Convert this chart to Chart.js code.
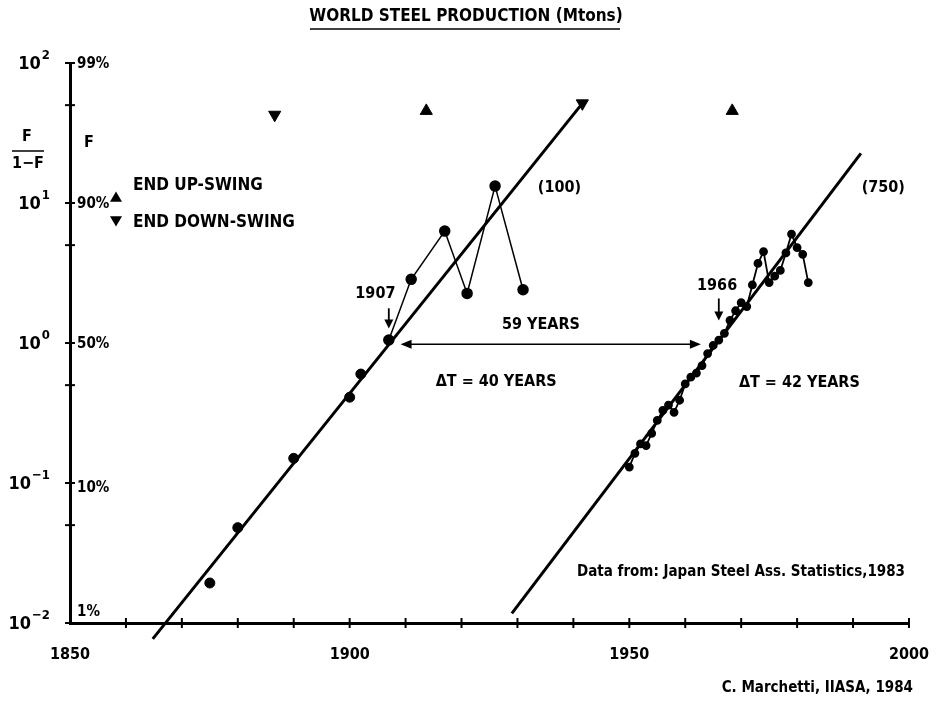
<!DOCTYPE html>
<html>
<head>
<meta charset="utf-8">
<script src="https://cdn.jsdelivr.net/npm/chart.js@4.4.1/dist/chart.umd.min.js"></script>
<style>
  html, body { margin: 0; padding: 0; background: #fff; }
  #wrap { width: 943px; height: 702px; }
</style>
</head>
<body>
<div id="wrap"><canvas id="steel"></canvas></div>
<script>
// first pulse, points on the fit line (no connecting line)
const years1a = [1875, 1880, 1890, 1900, 1902];
const share1a = [0.0193, 0.048, 0.15, 0.41, 0.60];
// first pulse, saturation phase (connected)
const years1b = [1907, 1911, 1917, 1921, 1926, 1931];
const share1b = [1.05, 2.85, 6.3, 2.26, 13.2, 2.4];
// second pulse
const years2 = [1950, 1951, 1952, 1953, 1954, 1955, 1956, 1957, 1958, 1959, 1960,
  1961, 1962, 1963, 1964, 1965, 1966, 1967, 1968, 1969, 1970, 1971, 1972, 1973,
  1974, 1975, 1976, 1977, 1978, 1979, 1980, 1981, 1982];
const share2 = [0.13, 0.163, 0.19, 0.185, 0.226, 0.28, 0.33, 0.36, 0.32, 0.39, 0.51,
  0.57, 0.61, 0.69, 0.84, 0.96, 1.05, 1.17, 1.45, 1.7, 1.94, 1.82, 2.6, 3.7,
  4.5, 2.7, 3.0, 3.3, 4.4, 6.0, 4.8, 4.3, 2.7];
// logistic fit lines (end points)
const fit1Years = [1864.8, 1941.6];
const fit1Share = [0.0077, 51.5];
const fit2Years = [1929, 1991.4];
const fit2Share = [0.0117, 22.6];
// long wave markers
const upSwingYears = [1913.7, 1968.4];
const upSwingShare = [45.5, 45.5];
const downSwingYears = [1886.6, 1941.6];
const downSwingShare = [42.7, 51.5];
// axes
const yTickValues = [0.01, 0.05, 0.1, 0.5, 1, 5, 10, 50, 100];
const yPowerLabels = [[0.01, '-2'], [0.1, '-1'], [1, '0'], [10, '1'], [100, '2']];
const yPercentLabels = [[100, '99%'], [10, '90%'], [1, '50%'], [0.1, '10%'], [0.01, '1%']];

const FONT = '"Liberation Sans Narrow", "DejaVu Sans Condensed", "Liberation Sans", sans-serif';
const pts = (xs, ys) => xs.map((x, i) => ({ x: x, y: ys[i] }));

const overlay = {
  id: 'overlay',
  afterDraw(chart) {
    const { ctx, chartArea: a, scales: { x, y } } = chart;
    const px = v => x.getPixelForValue(v);
    const py = v => y.getPixelForValue(v);
    const line = (x1, y1, x2, y2) => { ctx.beginPath(); ctx.moveTo(x1, y1); ctx.lineTo(x2, y2); ctx.stroke(); };
    const text = (s, X, Y, size, align) => {
      ctx.font = 'bold ' + size + 'px ' + FONT;
      ctx.textAlign = align || 'center';
      ctx.textBaseline = 'middle';
      ctx.fillText(s, X, Y);
    };
    const tri = (X, Y, r, down) => {
      ctx.beginPath();
      if (down) { ctx.moveTo(X - r, Y - r * 0.8); ctx.lineTo(X + r, Y - r * 0.8); ctx.lineTo(X, Y + r * 0.9); }
      else { ctx.moveTo(X - r, Y + r * 0.8); ctx.lineTo(X + r, Y + r * 0.8); ctx.lineTo(X, Y - r * 0.9); }
      ctx.closePath(); ctx.fill();
    };
    const head = (X, Y, dir, len, w) => {
      ctx.beginPath();
      if (dir === 'down') { ctx.moveTo(X, Y); ctx.lineTo(X - w, Y - len); ctx.lineTo(X + w, Y - len); }
      if (dir === 'left') { ctx.moveTo(X, Y); ctx.lineTo(X + len, Y - w); ctx.lineTo(X + len, Y + w); }
      if (dir === 'right') { ctx.moveTo(X, Y); ctx.lineTo(X - len, Y - w); ctx.lineTo(X - len, Y + w); }
      ctx.closePath(); ctx.fill();
    };

    ctx.save();
    ctx.fillStyle = '#000';
    ctx.strokeStyle = '#000';

    // crossing tick marks
    ctx.lineWidth = 2;
    for (let t = 1860; t <= 2000; t += 10) line(px(t), a.bottom - 5, px(t), a.bottom + 5);
    yTickValues.forEach(v => line(a.left - 5, py(v), a.left + 5, py(v)));

    // y labels: powers of ten and percentages
    yPowerLabels.forEach(([v, e]) => {
      ctx.font = 'bold 18px ' + FONT;
      ctx.textAlign = 'right'; ctx.textBaseline = 'middle';
      const ew = ctx.measureText('\u2212' + e).width;
      ctx.font = 'bold 13px ' + FONT;
      const sup = e.replace('-', '\u2212');
      const sw = ctx.measureText(sup).width;
      ctx.textAlign = 'left';
      ctx.fillText(sup, 50 - sw, py(v) - 7);
      ctx.font = 'bold 18px ' + FONT;
      ctx.textAlign = 'right';
      ctx.fillText('10', 50 - sw - 1, py(v) + 1);
    });
    yPercentLabels.forEach(([v, s]) => {
      const off = v === 0.01 ? -11 : (v === 0.1 ? 5 : 1);
      text(s, a.left + 7, py(v) + off, 15, 'left');
    });

    // title
    text('WORLD STEEL PRODUCTION (Mtons)', 466, 17, 17);
    ctx.lineWidth = 1.5;
    line(310, 29, 620, 29);

    // left side labels
    text('F', 27, 137, 16);
    ctx.lineWidth = 1.5;
    line(12, 151, 44, 151);
    text('1\u2212F', 28, 164, 16);
    text('F', 89, 143, 16);
    tri(116, 197, 6, false);
    tri(116, 221, 6, true);
    text('END UP-SWING', 133, 186, 17, 'left');
    text('END DOWN-SWING', 133, 223, 17, 'left');

    // pulse annotations
    text('(100)', px(1937.5), py(12.9), 16);
    text('(750)', px(1995.4), py(12.8), 16);
    text('1907', px(1904.6), py(2.26), 16);
    ctx.lineWidth = 1.8;
    line(px(1907), py(1.77), px(1907), py(1.4));
    head(px(1907), py(1.27), 'down', 9, 4.5);
    text('1966', px(1965.7), py(2.57), 16);
    line(px(1966), py(2.08), px(1966), py(1.6));
    head(px(1966), py(1.45), 'down', 9, 4.5);

    text('59 YEARS', px(1934.2), py(1.34), 16);
    ctx.lineWidth = 1.5;
    line(px(1909.6), py(0.98), px(1962), py(0.98));
    head(px(1909.1), py(0.98), 'left', 11, 4.5);
    head(px(1962.8), py(0.98), 'right', 11, 4.5);

    text('\u0394T = 40 YEARS', px(1926.2), py(0.525), 16);
    text('\u0394T = 42 YEARS', px(1980.4), py(0.52), 16);
    text('Data from: Japan Steel Ass. Statistics,1983', 905, 572, 15, 'right');
    text('C. Marchetti, IIASA, 1984', 913, 688, 15, 'right');
    ctx.restore();
  }
};

new Chart(document.getElementById('steel'), {
  type: 'scatter',
  data: {
    datasets: [
      { data: pts(fit1Years, fit1Share), showLine: true, borderColor: '#000', borderWidth: 3,
        pointRadius: 0, clip: false },
      { data: pts(fit2Years, fit2Share), showLine: true, borderColor: '#000', borderWidth: 3,
        pointRadius: 0, clip: false },
      { data: pts(years1a, share1a), backgroundColor: '#000', borderColor: '#000', pointRadius: 5 },
      { data: pts(years1b, share1b), showLine: true, borderColor: '#000', borderWidth: 1.5,
        backgroundColor: '#000', pointRadius: 5 },
      { data: pts(years2, share2), showLine: true, borderColor: '#000', borderWidth: 1.8,
        backgroundColor: '#000', pointRadius: 3.5 },
      { data: pts(upSwingYears, upSwingShare), pointStyle: 'triangle', pointRadius: 7,
        backgroundColor: '#000', borderColor: '#000' },
      { data: pts(downSwingYears, downSwingShare), pointStyle: 'triangle', rotation: 180,
        pointRadius: 7, backgroundColor: '#000', borderColor: '#000' }
    ]
  },
  options: {
    responsive: true,
    maintainAspectRatio: false,
    animation: false,
    layout: { padding: { top: 63, right: 30, bottom: 39, left: 0 } },
    plugins: { legend: { display: false }, tooltip: { enabled: false } },
    scales: {
      x: {
        type: 'linear', min: 1850, max: 2000,
        grid: { display: false },
        border: { color: '#000', width: 3 },
        ticks: {
          stepSize: 10, padding: 14, color: '#000',
          font: { family: FONT, size: 16, weight: 'bold' },
          maxRotation: 0, autoSkip: false,
          callback: v => (v % 50 === 0 ? String(v) : '')
        },
        afterFit: s => { s.height = 40; }
      },
      y: {
        type: 'logarithmic', min: 0.01, max: 100,
        grid: { display: false },
        border: { color: '#000', width: 3 },
        ticks: { display: false },
        afterBuildTicks: s => { s.ticks = yTickValues.map(v => ({ value: v })); },
        afterFit: s => { s.width = 70; }
      }
    }
  },
  plugins: [overlay]
});
</script>
</body>
</html>
